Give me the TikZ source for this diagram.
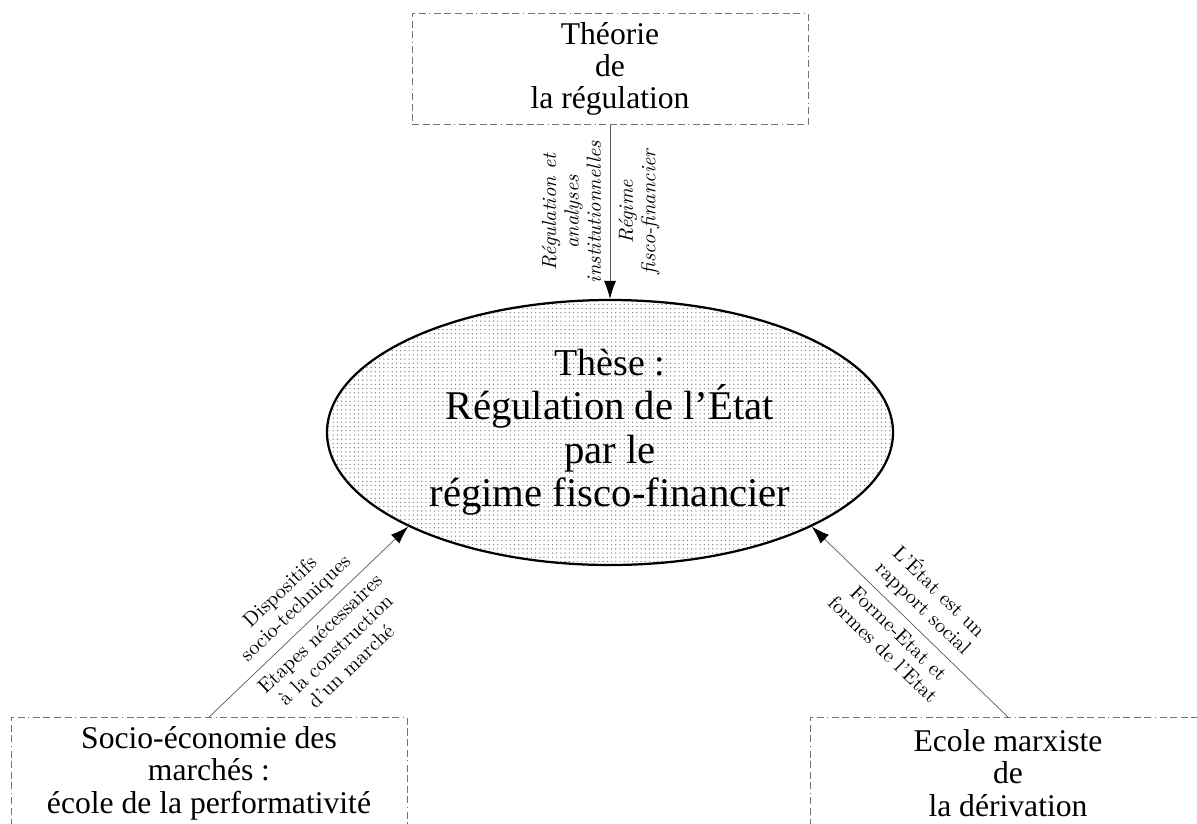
\documentclass[tikz,border=0pt]{standalone}
\usepackage{fontspec}
\newfontfamily\boitefont[Ligatures=TeX]{Liberation Serif}
\newfontfamily\etiqfont{lmroman10-regular}[Extension=.otf, ItalicFont=lmroman10-italic]
\usetikzlibrary{arrows.meta,positioning,shapes.geometric,patterns}

\begin{document}
\begin{tikzpicture}[->,>={Latex[length=4.5mm,width=3mm,color=black]},
  boite/.style={draw=black!55, line width=0.6pt,
    dash pattern=on 5pt off 2.5pt on 5pt off 2.5pt on 5pt off 2.5pt on 5pt off 2.5pt on 0.8pt off 2.5pt,
    minimum width=9.9cm, minimum height=2.78cm, align=center,
    font=\boitefont\fontsize{22.5}{23}\selectfont},
  bulle/.style={ellipse, draw, line width=1.6pt, pattern=dots, pattern color=black!50,
    minimum width=14.15cm, minimum height=6.625cm, inner sep=0pt, align=center,
    font=\boitefont\fontsize{29}{31}\selectfont},
  lien/.style={draw=black!65, line width=0.5pt},
  etiq/.style={font=\etiqfont\fontsize{14.5}{16}\selectfont, align=center, inner sep=6pt},
  etiqit/.style={etiq, font=\etiqfont\itshape\fontsize{14.5}{16}\selectfont}]
  \useasboundingbox (0,0) rectangle (29.925,-20.575);

	\node [bulle] (these) at (15.25,-10.8125) {{\fontsize{27}{31}\selectfont Thèse :}\\Régulation de l’État\\par le\\régime fisco-financier};
	\node [boite] (regul) [above=4.35cm of these] {Théorie\\de\\la régulation};
	\node [boite] (socio) [below=3.775cm of these, xshift=-10.025cm] {Socio-économie des\\marchés :\\école de la performativité};
	\node [boite] (derive) [below=3.775cm of these, xshift=9.95cm] {Ecole marxiste\\de\\la dérivation};

  \path (regul.south) edge[lien] node[etiqit, rotate=90, anchor=south] {Régulation et\\analyses\\institutionnelles}
    node[etiqit, rotate=90, anchor=north] {Régime\\fisco-financier} (these.north);
  \path (socio.north) edge[lien] node[etiq, sloped, above] {Dispositifs\\socio-techniques}
    node[etiq, sloped, below] {Etapes nécessaires\\à la construction\\d’un marché} (these.205);
  \path (derive.north) edge[lien] node[etiq, sloped, above] {L’État est un\\rapport social}
    node[etiq, sloped, below] {Forme-Etat et\\formes de l’Etat} (these.335);

  \end{tikzpicture}
\end{document}
